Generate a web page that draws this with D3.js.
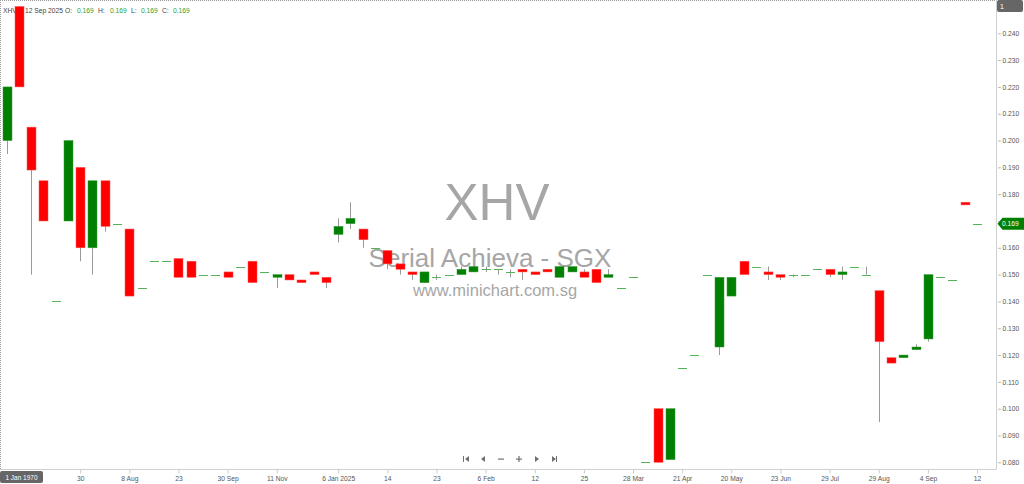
<!DOCTYPE html>
<html>
<head>
<meta charset="utf-8">
<script src="https://cdn.jsdelivr.net/npm/d3@7"></script>
<style>
html,body{margin:0;padding:0;background:#fff;}
svg{display:block;font-family:"Liberation Sans",Arial,sans-serif;}
</style>
</head>
<body>
<svg id="chart" width="1024" height="484"></svg>
<script>
// ---- data (one entry per candle, left to right) ----
const opens  = [0.200,0.250,0.205,0.185,0.140,0.170,0.190,0.160,0.185,0.169,
                0.167,0.145,0.155,0.155,0.156,0.155,0.150,0.150,0.151,0.153,
                0.155,0.151,0.149,0.150,0.148,0.151,0.149,0.165,0.169,0.167,
                0.160,0.159,0.154,0.151,0.147,0.149,0.150,0.150,0.151,0.152,
                0.152,0.151,0.152,0.151,0.152,0.149,0.151,0.151,0.152,0.149,
                0.145,0.149,0.080,0.100,0.081,0.115,0.120,0.150,0.123,0.142,
                0.155,0.153,0.151,0.150,0.150,0.150,0.152,0.152,0.150,0.153,
                0.150,0.144,0.119,0.119,0.122,0.126,0.149,0.148,0.177,0.169];
const highs  = [0.220,0.250,0.205,0.185,0.140,0.200,0.190,0.185,0.185,0.169,
                0.167,0.145,0.155,0.155,0.156,0.155,0.150,0.150,0.151,0.153,
                0.155,0.151,0.150,0.150,0.148,0.151,0.149,0.171,0.177,0.167,
                0.160,0.159,0.154,0.151,0.151,0.150,0.150,0.153,0.153,0.153,
                0.152,0.152,0.152,0.151,0.152,0.153,0.153,0.152,0.152,0.152,
                0.145,0.149,0.080,0.100,0.100,0.115,0.120,0.150,0.149,0.149,
                0.155,0.153,0.153,0.150,0.150,0.150,0.152,0.152,0.153,0.153,
                0.153,0.144,0.119,0.120,0.124,0.150,0.149,0.148,0.177,0.169];
const lows   = [0.195,0.220,0.150,0.170,0.140,0.170,0.155,0.150,0.166,0.169,
                0.142,0.145,0.155,0.155,0.149,0.149,0.150,0.150,0.149,0.153,
                0.147,0.151,0.145,0.148,0.147,0.150,0.145,0.162,0.167,0.160,
                0.160,0.152,0.150,0.148,0.147,0.148,0.150,0.150,0.151,0.151,
                0.150,0.149,0.148,0.150,0.151,0.149,0.151,0.149,0.147,0.149,
                0.145,0.149,0.080,0.080,0.081,0.115,0.120,0.150,0.120,0.142,
                0.150,0.153,0.148,0.148,0.149,0.150,0.152,0.149,0.148,0.153,
                0.150,0.095,0.117,0.119,0.122,0.125,0.149,0.148,0.176,0.169];
const closes = [0.220,0.220,0.189,0.170,0.140,0.200,0.160,0.185,0.168,0.169,
                0.142,0.145,0.155,0.155,0.149,0.149,0.150,0.150,0.149,0.153,
                0.147,0.151,0.150,0.148,0.147,0.150,0.147,0.168,0.171,0.163,
                0.160,0.154,0.152,0.150,0.151,0.149,0.150,0.152,0.153,0.152,
                0.152,0.151,0.151,0.150,0.151,0.153,0.153,0.149,0.147,0.150,
                0.145,0.149,0.080,0.080,0.100,0.115,0.120,0.150,0.149,0.149,
                0.150,0.153,0.150,0.149,0.150,0.150,0.152,0.150,0.151,0.153,
                0.150,0.125,0.117,0.120,0.123,0.150,0.149,0.148,0.176,0.169];

const xTickIndex  = [6,10,14,18,22,27,31,35,39,43,47,51,55,59,63,67,71,75,79];
const xTickLabels = ["30","8 Aug","23","30 Sep","11 Nov","6 Jan 2025","14","23","6 Feb",
                     "12","25","28 Mar","21 Apr","20 May","23 Jun","29 Jul","29 Aug","4 Sep","12"];
const yTicks = [0.080,0.090,0.100,0.110,0.120,0.130,0.140,0.150,0.160,0.170,
                0.180,0.190,0.200,0.210,0.220,0.230,0.240];
const lastPrice = 0.169;
const header = {code:"XHV", date:"12 Sep 2025", o:"0.169", h:"0.169", l:"0.169", c:"0.169"};

// ---- layout ----
const svg = d3.select("#chart");
const plotRight = 996.5, plotBottom = 469.5;
const idx = d3.range(opens.length);

const x = d3.scalePoint().domain(idx).range([6.5, 977]);
const y = d3.scaleLinear().domain([0.080, 0.240]).range([462.3, 33.3]);
const bodyW = 9;

const RED = "#ff0000", GREEN = "#008000", WICK = "#9a9a9a";
const SMALL = 6.7;

svg.append("clipPath").attr("id","plotclip")
  .append("rect").attr("x",0).attr("y",0).attr("width",plotRight).attr("height",plotBottom);

// watermark
const wm = svg.append("g").attr("fill","#a6a6a6").attr("text-anchor","middle");
wm.append("text").attr("x",497).attr("y",220).attr("font-size",51).text("XHV");
wm.append("text").attr("x",490).attr("y",267).attr("font-size",26).text("Serial Achieva - SGX");
wm.append("text").attr("x",495).attr("y",296).attr("font-size",16.5).text("www.minichart.com.sg");

// header text
const hd = svg.append("g").attr("font-size",SMALL);
const hy = 13;
hd.append("text").attr("x",3).attr("y",hy).attr("fill","#444").text(header.code);
hd.append("text").attr("x",25).attr("y",hy).attr("fill","#444").text(header.date);
[["O:",65,header.o,77],["H:",98,header.h,110],["L:",131,header.l,141],["C:",162,header.c,173]]
  .forEach(([k,kx,v,vx])=>{
    hd.append("text").attr("x",kx).attr("y",hy).attr("fill","#444").text(k);
    hd.append("text").attr("x",vx).attr("y",hy).attr("fill","#2ea02e").text(v);
  });

// candles
const cg = svg.append("g").attr("clip-path","url(#plotclip)");
const candles = cg.selectAll("g.c").data(idx).join("g").attr("class","c");
candles.filter(i => highs[i] !== lows[i])
  .append("line")
  .attr("x1", i => Math.round(x(i)) + 0.5).attr("x2", i => Math.round(x(i)) + 0.5)
  .attr("y1", i => y(highs[i])).attr("y2", i => y(lows[i]))
  .attr("stroke", WICK).attr("stroke-width", 1);
candles.filter(i => opens[i] !== closes[i])
  .append("rect")
  .attr("x", i => Math.round(x(i)) - 4)
  .attr("width", bodyW)
  .attr("y", i => y(Math.max(opens[i], closes[i])))
  .attr("height", i => Math.max(1, Math.abs(y(opens[i]) - y(closes[i]))))
  .attr("fill", i => closes[i] > opens[i] ? GREEN : RED)
  .attr("stroke", i => closes[i] > opens[i] ? "#3a9a3a" : "#ff5555")
  .attr("stroke-width", 0.5);
candles.filter(i => opens[i] === closes[i])
  .append("line")
  .attr("x1", i => Math.round(x(i)) - 4).attr("x2", i => Math.round(x(i)) + 5)
  .attr("y1", i => Math.round(y(opens[i])) + 0.5).attr("y2", i => Math.round(y(opens[i])) + 0.5)
  .attr("stroke", "#58b058").attr("stroke-width", 1);

// frame
svg.append("line").attr("x1",0).attr("x2",plotRight).attr("y1",0.5).attr("y2",0.5)
  .attr("stroke","#999").attr("stroke-dasharray","1,1");
svg.append("line").attr("x1",0.5).attr("x2",0.5).attr("y1",0).attr("y2",plotBottom)
  .attr("stroke","#999").attr("stroke-dasharray","1,1");

// right axis
const yAxis = d3.axisRight(y).tickValues(yTicks).tickFormat(d3.format(".3f")).tickSize(3).tickPadding(3);
const ya = svg.append("g").attr("transform",`translate(${plotRight},0)`).call(yAxis);
ya.select(".domain").attr("stroke","#d0d0d0").attr("d",`M0,0V${plotBottom}`);
ya.selectAll(".tick line").attr("stroke","#bbb").attr("transform","translate(1.5,0)");
ya.selectAll(".tick text").attr("fill","#555").attr("font-size",SMALL)
  .attr("font-family","Liberation Sans, Arial, sans-serif");
// the last-price tag covers this tick label in the reference
ya.selectAll(".tick").filter(d => Math.abs(d - lastPrice) < 0.0025).select("text").attr("fill","#cfe6cf");

// bottom axis
const xAxis = d3.axisBottom(x).tickValues(xTickIndex)
  .tickFormat((d,k) => xTickLabels[k]).tickSize(4).tickPadding(3);
const xa = svg.append("g").attr("transform",`translate(0,${plotBottom})`).call(xAxis);
xa.select(".domain").attr("stroke","#d0d0d0").attr("d",`M0,0H${plotRight}`);
xa.selectAll(".tick line").attr("stroke","#ccc");
xa.selectAll(".tick text").attr("fill","#555").attr("font-size",SMALL)
  .attr("font-family","Liberation Sans, Arial, sans-serif");

// crosshair date box bottom-left
svg.append("rect").attr("x",0).attr("y",471).attr("width",43).attr("height",12).attr("rx",2)
  .attr("fill","#666");
svg.append("text").attr("x",21.5).attr("y",479.5).attr("text-anchor","middle")
  .attr("fill","#fff").attr("font-size",6.5).text("1 Jan 1970");

// top-right box
svg.append("rect").attr("x",997).attr("y",0).attr("width",26).attr("height",12).attr("rx",2)
  .attr("fill","#666");
svg.append("text").attr("x",1000).attr("y",9).attr("fill","#fff").attr("font-size",7).text("1");

// last price tag
const py = y(lastPrice);
svg.append("path")
  .attr("d",`M${plotRight+1},${py} L${plotRight+6},${py-6} H1024 V${py+6} H${plotRight+6} Z`)
  .attr("fill",GREEN);
svg.append("text").attr("x",1002).attr("y",py+2.5).attr("fill","#fff").attr("font-size",SMALL)
  .text(d3.format(".3f")(lastPrice));

// navigation icons
const nav = svg.append("g").attr("fill","#707070");
const ny = 459;
nav.append("rect").attr("x",463).attr("y",ny-3).attr("width",1).attr("height",6);
nav.append("path").attr("d",`M465,${ny} L469,${ny-3} V${ny+3} Z`);
nav.append("path").attr("d",`M481,${ny} L485,${ny-3} V${ny+3} Z`);
nav.append("rect").attr("x",498).attr("y",ny-0.5).attr("width",6).attr("height",1.2);
nav.append("rect").attr("x",516).attr("y",ny-0.5).attr("width",6).attr("height",1.2);
nav.append("rect").attr("x",518.4).attr("y",ny-3).attr("width",1.2).attr("height",6);
nav.append("path").attr("d",`M539,${ny} L535,${ny-3} V${ny+3} Z`);
nav.append("path").attr("d",`M556,${ny} L552,${ny-3} V${ny+3} Z`);
nav.append("rect").attr("x",556).attr("y",ny-3).attr("width",1).attr("height",6);
</script>
</body>
</html>
